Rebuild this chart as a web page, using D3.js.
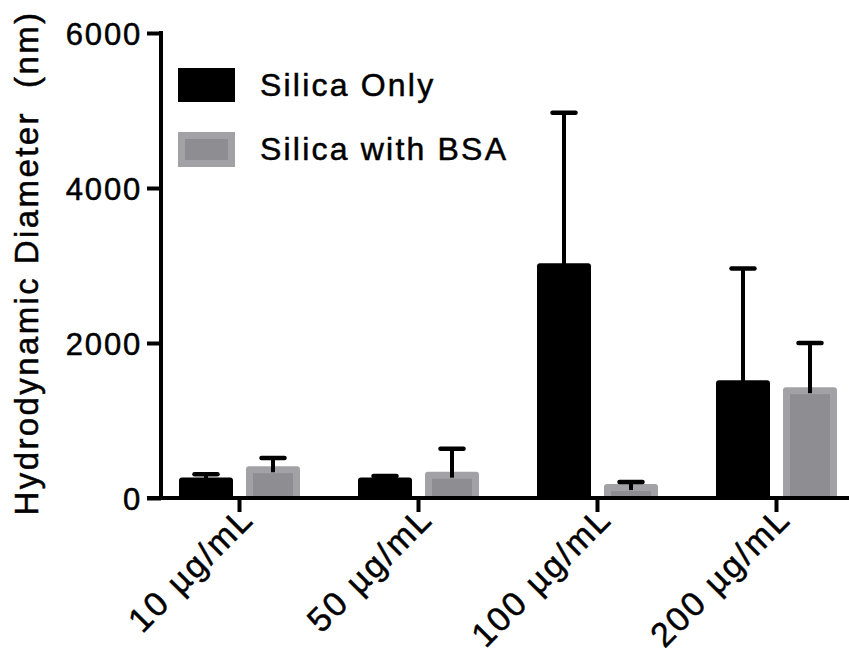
<!DOCTYPE html>
<html>
<head>
<meta charset="utf-8">
<script src="https://cdn.jsdelivr.net/npm/d3@7/dist/d3.min.js"></script>
<style>
  html, body { margin: 0; padding: 0; background: #fff; }
  svg { display: block; font-family: "Liberation Sans", Arial, Helvetica, sans-serif; }
  svg text { stroke: #000; stroke-width: 0.5px; }
</style>
</head>
<body>
<svg id="chart" width="849" height="656"></svg>
<script>
// Concentrations on the x axis
const categories = ["10 µg/mL", "50 µg/mL", "100 µg/mL", "200 µg/mL"];
// Series names (legend order)
const seriesNames = ["Silica Only", "Silica with BSA"];
// Mean hydrodynamic diameter (nm)
const silicaOnly = [265, 265, 3030, 1520];
const silicaBSA = [410, 340, 180, 1430];
// Upper error (SD, nm)
const silicaOnlyErr = [40, 20, 1940, 1440];
const silicaBSAErr = [105, 295, 25, 570];
// Y axis ticks
const yTicks = [0, 2000, 4000, 6000];

const data = categories.map((c, i) => ({
  cat: c,
  values: [
    { series: seriesNames[0], mean: silicaOnly[i], err: silicaOnlyErr[i] },
    { series: seriesNames[1], mean: silicaBSA[i], err: silicaBSAErr[i] }
  ]
}));

const svg = d3.select("#chart");
const axisX0 = 161, baseY = 498, topY = 33;

const x = d3.scaleBand().domain(categories).range([150, 866]);
const xSub = d3.scaleBand().domain(seriesNames).range([-60.5, 60.5]).paddingInner(0.194);
const y = d3.scaleLinear().domain([0, 6000]).range([baseY, topY]);

const GRAY_OUT = "#a2a1a6", GRAY_IN = "#8e8d92", BORDER = 7;

// Bars
const groups = svg.append("g").selectAll("g").data(data).join("g")
  .attr("transform", d => `translate(${x(d.cat) + x.bandwidth() / 2},0)`);

groups.each(function (d) {
  const g = d3.select(this);
  d.values.forEach(v => {
    const bx = xSub(v.series), bw = xSub.bandwidth();
    const by = y(v.mean), bh = baseY - by;
    if (v.series === seriesNames[0]) {
      g.append("rect").attr("x", bx).attr("y", by).attr("width", bw).attr("height", bh + 2)
        .attr("rx", 3).attr("fill", "#000");
    } else {
      g.append("rect").attr("x", bx).attr("y", by).attr("width", bw).attr("height", bh + 2)
        .attr("rx", 3).attr("fill", GRAY_OUT);
      g.append("rect").attr("x", bx + BORDER).attr("y", by + BORDER)
        .attr("width", bw - 2 * BORDER).attr("height", Math.max(0, bh - BORDER + 2))
        .attr("fill", GRAY_IN);
    }
  });
});

// Error bars (upper only)
groups.each(function (d) {
  const g = d3.select(this);
  d.values.forEach(v => {
    const cx = xSub(v.series) + xSub.bandwidth() / 2;
    const y0 = y(v.mean) + 6, y1 = y(v.mean + v.err);
    g.append("line").attr("x1", cx).attr("x2", cx).attr("y1", y0).attr("y2", y1)
      .attr("stroke", "#000").attr("stroke-width", 4);
    g.append("line").attr("x1", cx - 11.5).attr("x2", cx + 11.5).attr("y1", y1).attr("y2", y1)
      .attr("stroke", "#000").attr("stroke-width", 4.5).attr("stroke-linecap", "round");
  });
});

// Y axis
const yAxis = svg.append("g").attr("transform", `translate(${axisX0},0)`)
  .call(d3.axisLeft(y).tickValues(yTicks).tickSize(14).tickSizeOuter(0).tickPadding(5).tickFormat(d3.format("d")));
yAxis.select(".domain").attr("stroke-width", 4).attr("d", `M0,${topY - 2}V${baseY}`);
yAxis.selectAll(".tick line").attr("stroke-width", 4);
yAxis.selectAll(".tick text").attr("font-size", 31).attr("letter-spacing", 1.8)
  .attr("fill", "#000").attr("dy", "0.36em");

// X axis
const xAxis = svg.append("g").attr("transform", `translate(0,${baseY})`)
  .call(d3.axisBottom(x).tickSize(14).tickSizeOuter(0));
xAxis.select(".domain").attr("stroke-width", 4).attr("d", `M147,0H849`);
xAxis.selectAll(".tick line").attr("stroke-width", 4);
xAxis.selectAll(".tick text")
  .attr("font-size", 34).attr("letter-spacing", 2.2).attr("fill", "#000")
  .attr("text-anchor", "end").attr("x", 0).attr("y", 0).attr("dy", null)
  .attr("transform", "translate(16,23) rotate(-45)");

// Y axis title
svg.append("text")
  .attr("transform", "translate(38,263) rotate(-90)")
  .attr("text-anchor", "middle").attr("font-size", 33).attr("letter-spacing", 2.4)
  .attr("fill", "#000")
  .text("Hydrodynamic Diameter  (nm)").style("white-space", "pre");

// Legend
const legend = svg.append("g");
const legendRows = [{ name: seriesNames[0], y: 68 }, { name: seriesNames[1], y: 132 }];
legendRows.forEach((r, i) => {
  if (i === 0) {
    legend.append("rect").attr("x", 178).attr("y", r.y).attr("width", 57).attr("height", 34).attr("fill", "#000");
  } else {
    legend.append("rect").attr("x", 178).attr("y", r.y).attr("width", 57).attr("height", 35).attr("fill", GRAY_OUT);
    legend.append("rect").attr("x", 178 + BORDER).attr("y", r.y + BORDER).attr("width", 57 - 2 * BORDER)
      .attr("height", 35 - 2 * BORDER).attr("fill", GRAY_IN);
  }
  legend.append("text").attr("x", 260).attr("y", r.y + 28).attr("font-size", 32)
    .attr("letter-spacing", 2.2).attr("fill", "#000").text(r.name);
});
</script>
</body>
</html>
